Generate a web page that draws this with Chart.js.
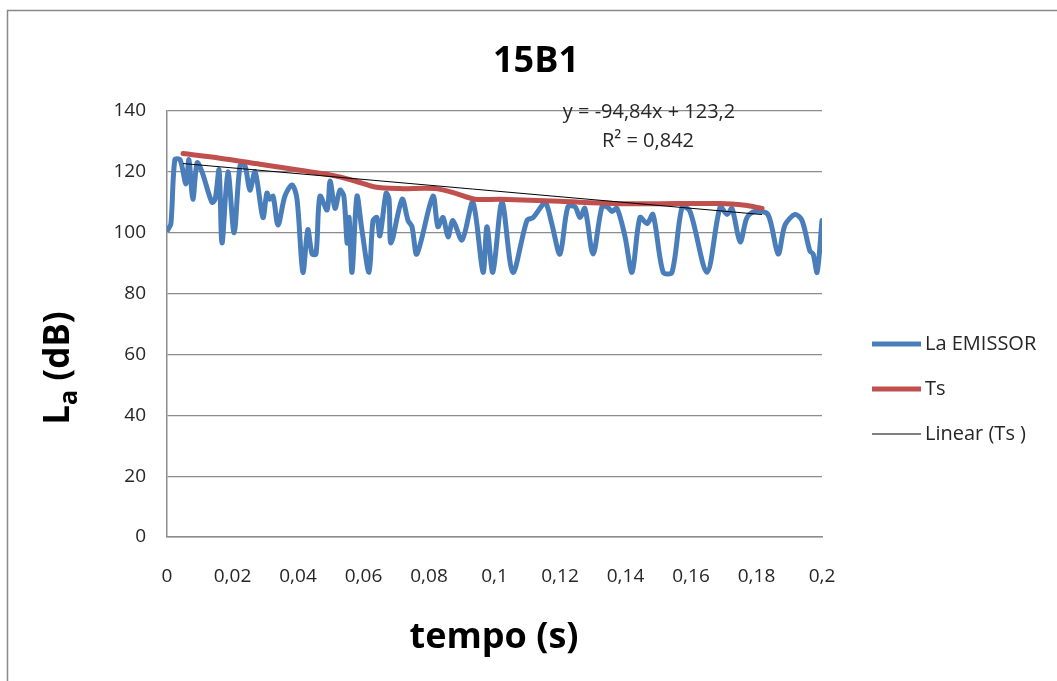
<!DOCTYPE html>
<html>
<head>
<meta charset="utf-8">
<script src="https://cdn.jsdelivr.net/npm/chart.js@4/dist/chart.umd.min.js"></script>
<style>
    body { margin: 0; background: #fff; }
    #chart { display: block; }
</style>
</head>
<body>
<canvas id="chart" width="1057" height="681"></canvas>
<script>
// La EMISSOR (blue) – time in seconds, level in dB
const tempo = [
    0.0003, 0.0012, 0.0024, 0.0040, 0.0058, 0.0067, 0.0079, 0.0092, 0.0107, 0.0137,
    0.0147, 0.0159, 0.0168, 0.0186, 0.0205, 0.0223, 0.0238, 0.0253, 0.0269, 0.0293,
    0.0305, 0.0314, 0.0324, 0.0339, 0.0360, 0.0382, 0.0397, 0.0415, 0.0430, 0.0443,
    0.0455, 0.0467, 0.0489, 0.0498, 0.0513, 0.0528, 0.0540, 0.0550, 0.0556, 0.0565,
    0.0580, 0.0595, 0.0617, 0.0629, 0.0641, 0.0650, 0.0669, 0.0678, 0.0684, 0.0718,
    0.0736, 0.0748, 0.0763, 0.0812, 0.0827, 0.0843, 0.0858, 0.0873, 0.0901, 0.0934,
    0.0965, 0.0977, 0.0995, 0.1023, 0.1056, 0.1099, 0.1118, 0.1154, 0.1163, 0.1176,
    0.1200, 0.1224, 0.1246, 0.1261, 0.1276, 0.1301, 0.1328, 0.1344, 0.1359, 0.1374,
    0.1398, 0.1420, 0.1444, 0.1466, 0.1484, 0.1515, 0.1542, 0.1573, 0.1597, 0.1649,
    0.1689, 0.1710, 0.1725, 0.1750, 0.1771, 0.1795, 0.1835, 0.1866, 0.1887, 0.1918,
    0.1939, 0.1963, 0.1973, 0.1985, 0.2000
];
const laEmissor = [
    101, 103, 124, 124, 116, 124, 111, 123, 120, 110,
    111, 120.6, 96.6, 120, 100, 122, 122, 114, 120, 105,
    113, 111, 112, 102.5, 112, 115.7, 111, 87, 101, 93,
    93, 112, 107.5, 117, 108, 114, 112, 96.6, 105, 87,
    112, 101, 87, 104, 105, 99, 113, 111, 96.6, 111,
    104, 102, 93, 112, 102, 105, 98.6, 104, 97.6, 110,
    87, 102, 87, 110, 87, 104, 105, 110, 108, 102.5,
    93, 108.5, 108.5, 105, 108, 93, 108.5, 108.5, 107, 108,
    99, 87, 105, 103, 106, 87, 87, 108.5, 107, 87,
    108.5, 106, 108, 97, 105, 107, 106, 93, 102.5, 106,
    104, 94, 93, 87, 104
];

// Ts (red)
const tsTempo = [0.0049, 0.0162, 0.0284, 0.0406, 0.0498, 0.0574, 0.0635, 0.0711, 0.0818,
                 0.0879, 0.0940, 0.1017, 0.1200, 0.1362, 0.1475, 0.1689, 0.1765, 0.1817];
const tsValues = [126, 124.5, 122.5, 120.5, 119, 117, 115, 114.5, 114.5,
                  113, 111, 111, 110.3, 109.6, 109.5, 109.6, 109, 108];

// Linear (Ts) trendline: y = -94,84x + 123,2
const trendSlope = -94.84;
const trendIntercept = 123.2;
const trendLabel = 'y = -94,84x + 123,2';
const r2Label = 'R² = 0,842';

const xTickLabels = ['0', '0,02', '0,04', '0,06', '0,08', '0,1', '0,12', '0,14', '0,16', '0,18', '0,2'];
const yTicks = [0, 20, 40, 60, 80, 100, 120, 140];

const legendItems = ['La EMISSOR', 'Ts', 'Linear (Ts )'];

const blue = '#4A7EBB';
const red = '#C0504D';
const gridGray = '#8c8c8c';
const textColor = '#262626';
const font = '"Open Sans", "Noto Sans", sans-serif';

const trendStart = tsTempo[0];
const trendEnd = tsTempo[tsTempo.length - 1];

const decor = {
    id: 'decor',
    beforeDraw(chart) {
        const ctx = chart.ctx;
        ctx.save();
        ctx.fillStyle = '#fff';
        ctx.fillRect(0, 0, chart.width, chart.height);
        ctx.strokeStyle = '#888';
        ctx.lineWidth = 1.5;
        ctx.beginPath();
        ctx.moveTo(7.5, chart.height);
        ctx.lineTo(7.5, 10.5);
        ctx.lineTo(chart.width, 10.5);
        ctx.stroke();
        ctx.restore();
    },
    afterDraw(chart) {
        const ctx = chart.ctx;
        ctx.save();
        ctx.fillStyle = '#000';

        // title
        ctx.font = 'bold 36px ' + font;
        ctx.textAlign = 'center';
        ctx.textBaseline = 'alphabetic';
        ctx.fillText('15B1', 536, 72);

        // x axis title
        ctx.fillText('tempo (s)', 494, 648);

        // y axis title with subscript
        ctx.save();
        ctx.translate(69, 368);
        ctx.rotate(-Math.PI / 2);
        const big = 'bold 35px ' + font;
        const small = 'bold 25px ' + font;
        ctx.font = big;
        const wL = ctx.measureText('L').width;
        const wRest = ctx.measureText(' (dB)').width;
        ctx.font = small;
        const wA = ctx.measureText('a').width;
        const x0 = -(wL + wA + wRest) / 2;
        ctx.textAlign = 'left';
        ctx.font = big;
        ctx.fillText('L', x0, 0);
        ctx.font = small;
        ctx.fillText('a', x0 + wL, 8);
        ctx.font = big;
        ctx.fillText(' (dB)', x0 + wL + wA, 0);
        ctx.restore();

        // trendline annotation
        ctx.fillStyle = textColor;
        ctx.font = '20px ' + font;
        ctx.textAlign = 'center';
        ctx.textBaseline = 'middle';
        ctx.fillText(trendLabel, 649, 112);
        ctx.fillText(r2Label, 648, 141);

        // legend
        const styles = [
            { color: blue, width: 5 },
            { color: red, width: 5 },
            { color: '#000', width: 1 }
        ];
        ctx.textAlign = 'left';
        legendItems.forEach((label, i) => {
            const y = 344 + i * 45;
            ctx.strokeStyle = styles[i].color;
            ctx.lineWidth = styles[i].width;
            ctx.beginPath();
            ctx.moveTo(872, y);
            ctx.lineTo(921, y);
            ctx.stroke();
            ctx.fillStyle = textColor;
            ctx.fillText(label, 925, y);
        });
        ctx.restore();
    }
};

new Chart(document.getElementById('chart'), {
    type: 'line',
    data: {
        datasets: [
            {
                label: legendItems[0],
                data: tempo.map((t, i) => ({ x: t, y: laEmissor[i] })),
                borderColor: blue,
                borderWidth: 5,
                pointRadius: 0,
                tension: 0.3,
                borderJoinStyle: 'round',
                borderCapStyle: 'round',
                fill: false,
                order: 3
            },
            {
                label: legendItems[1],
                data: tsTempo.map((t, i) => ({ x: t, y: tsValues[i] })),
                borderColor: red,
                borderWidth: 5,
                pointRadius: 0,
                tension: 0.3,
                borderCapStyle: 'round',
                fill: false,
                order: 2
            },
            {
                label: legendItems[2],
                data: [trendStart, trendEnd].map(t => ({ x: t, y: trendSlope * t + trendIntercept })),
                borderColor: '#000',
                borderWidth: 1,
                pointRadius: 0,
                fill: false,
                order: 1
            }
        ]
    },
    options: {
        responsive: false,
        animation: false,
        layout: { padding: { left: 0, right: 235, top: 111, bottom: 74 } },
        plugins: {
            legend: { display: false },
            title: { display: false },
            tooltip: { enabled: false }
        },
        scales: {
            x: {
                type: 'linear',
                min: 0,
                max: 0.2,
                afterFit(scale) { scale.height = 70; },
                afterBuildTicks(scale) {
                    scale.ticks = xTickLabels.map((_, i) => ({ value: i * 0.02 }));
                },
                afterTickToLabelConversion(scale) {
                    scale.ticks.forEach((t, i) => { t.label = xTickLabels[i]; });
                },
                ticks: {
                    padding: 28,
                    color: textColor,
                    font: { size: 19, family: font },
                    maxRotation: 0,
                    autoSkip: false
                },
                grid: { display: false, drawTicks: false },
                border: { color: gridGray, width: 1.5 }
            },
            y: {
                min: 0,
                max: 140,
                afterFit(scale) { scale.width = 167; },
                afterBuildTicks(scale) {
                    scale.ticks = yTicks.map(v => ({ value: v }));
                },
                ticks: {
                    padding: 21,
                    color: textColor,
                    font: { size: 19, family: font }
                },
                grid: { color: gridGray, lineWidth: 1.2, drawTicks: false },
                border: { color: gridGray, width: 1.5 }
            }
        }
    },
    plugins: [decor]
});
</script>
</body>
</html>
